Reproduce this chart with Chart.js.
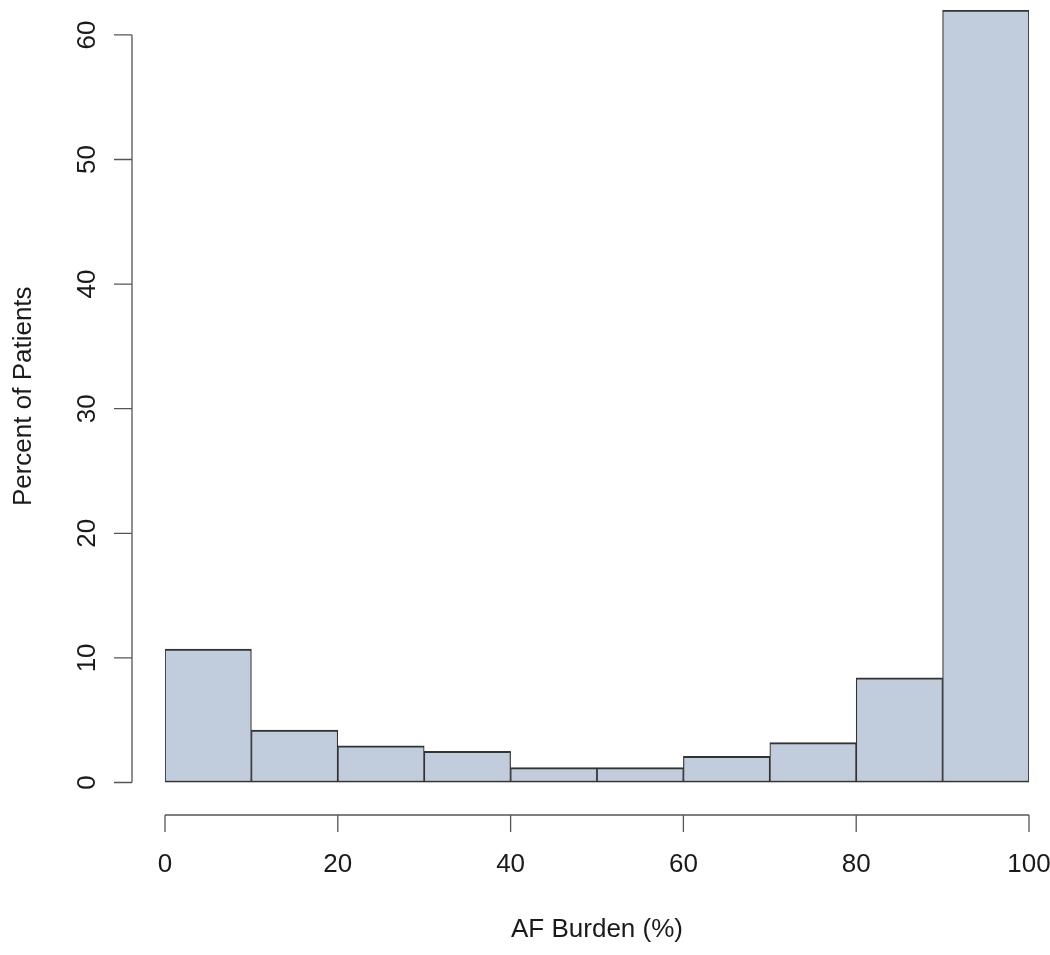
<!DOCTYPE html>
<html>
<head>
<meta charset="utf-8">
<script src="https://cdn.jsdelivr.net/npm/chart.js@4"></script>
<style>
  html, body { margin: 0; padding: 0; background: #ffffff; }
  #wrap { width: 1050px; height: 955px; }
</style>
</head>
<body>
<div id="wrap"><canvas id="c" width="1050" height="955"></canvas></div>
<script>
// ---- data ----
const binCenters = [5, 15, 25, 35, 45, 55, 65, 75, 85, 95];   // AF burden bins (0-10, 10-20, ...)
const percentPatients = [10.7, 4.2, 2.95, 2.5, 1.2, 1.2, 2.1, 3.2, 8.4, 62.0];
const xTicks = [0, 20, 40, 60, 80, 100];
const yTicks = [0, 10, 20, 30, 40, 50, 60];
const xTitle = 'AF Burden (%)';
const yTitle = 'Percent of Patients';

const FONT = "'Liberation Sans', Arial, Helvetica, sans-serif";
const TEXT = '#1a1a1a';

// R-style detached axes drawn from the library's scales
const rAxes = {
  id: 'rAxes',
  afterDraw(chart) {
    const { ctx, scales: { x, y } } = chart;
    ctx.save();
    ctx.strokeStyle = '#555';
    ctx.lineWidth = 1.3;
    ctx.beginPath();
    // y axis
    const yLineX = x.getPixelForValue(xTicks[0]) - 33;
    ctx.moveTo(yLineX, y.getPixelForValue(yTicks[0]));
    ctx.lineTo(yLineX, y.getPixelForValue(yTicks[yTicks.length - 1]));
    yTicks.forEach(v => {
      const p = y.getPixelForValue(v);
      ctx.moveTo(yLineX - 18, p);
      ctx.lineTo(yLineX, p);
    });
    // x axis
    const xLineY = y.getPixelForValue(yTicks[0]) + 32.5;
    ctx.moveTo(x.getPixelForValue(xTicks[0]), xLineY);
    ctx.lineTo(x.getPixelForValue(xTicks[xTicks.length - 1]), xLineY);
    xTicks.forEach(v => {
      const p = x.getPixelForValue(v);
      ctx.moveTo(p, xLineY);
      ctx.lineTo(p, xLineY + 17);
    });
    ctx.stroke();
    ctx.restore();
  }
};

new Chart(document.getElementById('c'), {
  type: 'bar',
  data: {
    datasets: [{
      data: binCenters.map((c, i) => ({ x: c, y: percentPatients[i] })),
      backgroundColor: '#c1ccdc',
      borderColor: '#333333',
      borderWidth: { top: 2, bottom: 2, left: 1.2, right: 1.2 },
      borderSkipped: false,
      barPercentage: 1,
      categoryPercentage: 1
    }]
  },
  options: {
    responsive: false,
    animation: false,
    events: [],
    layout: { padding: { top: 10, right: 21, bottom: 0, left: 0 } },
    plugins: { legend: { display: false }, tooltip: { enabled: false } },
    scales: {
      x: {
        type: 'linear',
        min: 0,
        max: 100,
        offset: false,
        grid: { display: false, drawTicks: false, offset: false },
        border: { display: false },
        afterBuildTicks: s => { s.ticks = xTicks.map(v => ({ value: v })); },
        afterFit: s => { s.height = 172.5; s.paddingLeft = 0; s.paddingRight = 0; },
        ticks: {
          autoSkip: false,
          maxRotation: 0,
          minRotation: 0,
          padding: 67,
          color: TEXT,
          font: { family: FONT, size: 26 }
        },
        title: {
          display: true,
          text: xTitle,
          color: TEXT,
          font: { family: FONT, size: 26 },
          padding: { top: 0, bottom: 10 }
        }
      },
      y: {
        type: 'linear',
        min: 0,
        max: 62,
        grid: { display: false, drawTicks: false },
        border: { display: false },
        afterBuildTicks: s => { s.ticks = yTicks.map(v => ({ value: v })); },
        afterFit: s => { s.width = 165; s.paddingTop = 0; s.paddingBottom = 0; },
        ticks: {
          autoSkip: false,
          minRotation: 90,
          maxRotation: 90,
          crossAlign: 'center',
          padding: 63,
          color: TEXT,
          font: { family: FONT, size: 26 }
        },
        title: {
          display: true,
          text: yTitle,
          color: TEXT,
          font: { family: FONT, size: 26 },
          padding: { top: 8.4, bottom: 0 }
        }
      }
    }
  },
  plugins: [rAxes]
});
</script>
</body>
</html>
